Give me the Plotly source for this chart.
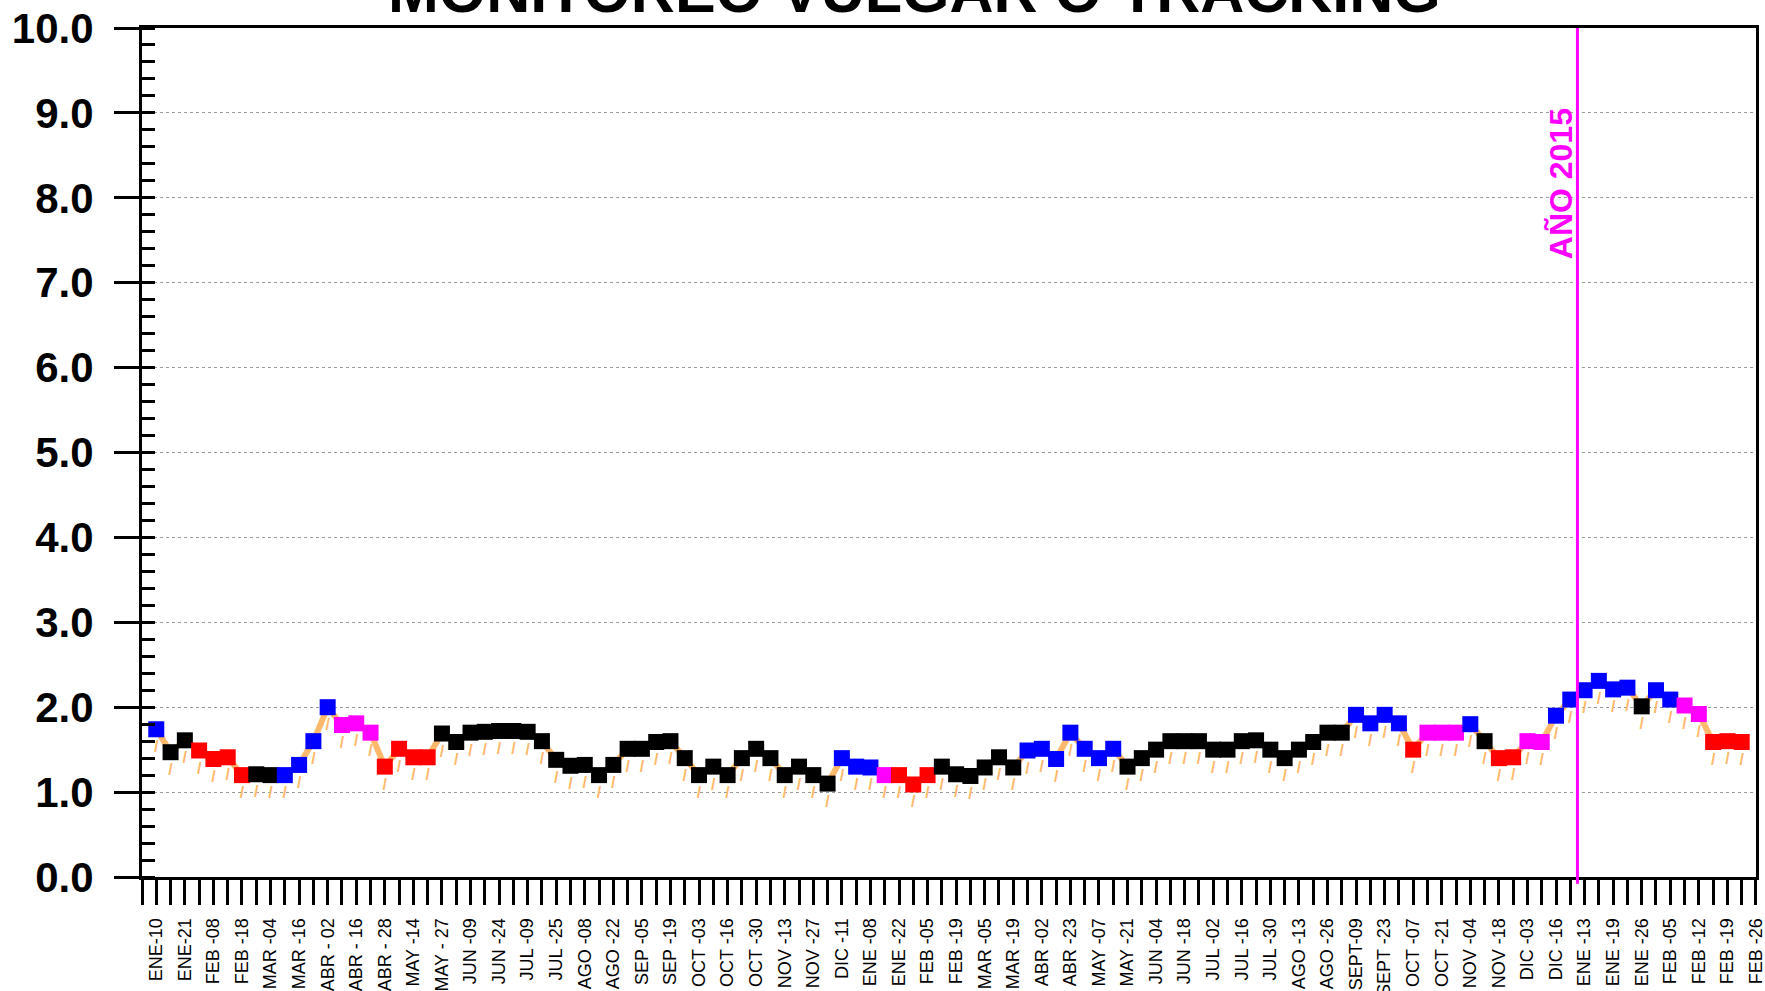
import numpy as np
import plotly.graph_objects as go

# etiquetas de fecha (una cada dos marcas del eje)
fechas = ["ENE-10", "ENE-21", "FEB -08", "FEB -18", "MAR -04", "MAR -16", "ABR - 02", "ABR - 16",
          "ABR - 28", "MAY -14", "MAY - 27", "JUN -09", "JUN -24", "JUL -09", "JUL -25", "AGO -08",
          "AGO -22", "SEP -05", "SEP -19", "OCT -03", "OCT -16", "OCT -30", "NOV -13", "NOV -27",
          "DIC -11", "ENE -08", "ENE -22", "FEB -05", "FEB -19", "MAR -05", "MAR -19", "ABR -02",
          "ABR -23", "MAY -07", "MAY -21", "JUN -04", "JUN -18", "JUL -02", "JUL -16", "JUL -30",
          "AGO -13", "AGO -26", "SEPT-09", "SEPT -23", "OCT -07", "OCT -21", "NOV -04", "NOV -18",
          "DIC -03", "DIC -16", "ENE -13", "ENE -19", "ENE -26", "FEB -05", "FEB -12", "FEB -19",
          "FEB -26"]

# valores del monitoreo
valores = [1.74, 1.47, 1.61, 1.49, 1.39, 1.41, 1.20, 1.21, 1.20, 1.20,
           1.32, 1.60, 2.00, 1.79, 1.81, 1.70, 1.30, 1.51, 1.41, 1.41,
           1.69, 1.59, 1.70, 1.71, 1.72, 1.72, 1.71, 1.60, 1.38, 1.31,
           1.32, 1.20, 1.32, 1.51, 1.51, 1.59, 1.60, 1.40, 1.20, 1.30,
           1.20, 1.40, 1.51, 1.40, 1.20, 1.30, 1.20, 1.10, 1.40, 1.30,
           1.29, 1.20, 1.20, 1.09, 1.20, 1.30, 1.21, 1.19, 1.29, 1.41,
           1.29, 1.49, 1.51, 1.39, 1.70, 1.51, 1.40, 1.51, 1.30, 1.40,
           1.50, 1.60, 1.60, 1.60, 1.50, 1.50, 1.60, 1.61, 1.50, 1.40,
           1.50, 1.59, 1.70, 1.70, 1.91, 1.81, 1.91, 1.81, 1.50, 1.70,
           1.70, 1.70, 1.80, 1.60, 1.40, 1.41, 1.60, 1.59, 1.90, 2.09,
           2.20, 2.31, 2.21, 2.23, 2.01, 2.20, 2.09, 2.02, 1.92, 1.59,
           1.60, 1.59]

# color de cada punto: B azul, K negro, R rojo, M magenta
codigos = ["B", "K", "K", "R", "R", "R", "R", "K", "K", "B",
           "B", "B", "B", "M", "M", "M", "R", "R", "R", "R",
           "K", "K", "K", "K", "K", "K", "K", "K", "K", "K",
           "K", "K", "K", "K", "K", "K", "K", "K", "K", "K",
           "K", "K", "K", "K", "K", "K", "K", "K", "B", "B",
           "B", "M", "R", "R", "R", "K", "K", "K", "K", "K",
           "K", "B", "B", "B", "B", "B", "B", "B", "K", "K",
           "K", "K", "K", "K", "K", "K", "K", "K", "K", "K",
           "K", "K", "K", "K", "B", "B", "B", "B", "R", "M",
           "M", "M", "B", "K", "R", "R", "M", "M", "B", "B",
           "B", "B", "B", "B", "K", "B", "B", "M", "M", "R",
           "R", "R"]
paleta = {"B": "#0000FF", "K": "#000000", "R": "#FF0000", "M": "#FF00FF"}

naranja = "#FFB96C"
magenta = "#FF00FF"
fuente = "Liberation Sans"

x = np.arange(1, len(valores) + 1)
n_marcas = 2 * len(fechas)
tickvals = list(range(n_marcas))
ticktext = []
for f in fechas:
    ticktext += ["", f]

# linea del cambio de año: justo antes de la primera semana de 2015
corte_2015 = 2 * fechas.index("ENE -13") + 1 - 0.5

fig = go.Figure()
fig.add_trace(go.Scatter(x=x, y=valores, mode="lines",
                         line=dict(color=naranja, width=6), hoverinfo="skip"))
fig.add_trace(go.Scatter(x=x, y=valores, mode="markers+text",
                         marker=dict(symbol="square", size=16,
                                     color=[paleta[c] for c in codigos]),
                         text=["/"] * len(valores), textposition="bottom center",
                         textfont=dict(family=fuente, size=16, color=naranja, weight="bold")))

fig.add_shape(type="line", xref="x", yref="paper", x0=corte_2015, x1=corte_2015,
              y0=-0.008, y1=1, line=dict(color=magenta, width=3))
fig.add_annotation(x=corte_2015, y=0.8165, xref="x", yref="paper", text="AÑO 2015",
                   textangle=-90, showarrow=False, xanchor="center", yanchor="middle",
                   xshift=-17, font=dict(family=fuente, size=32, color=magenta, weight="bold"))
fig.add_annotation(x=0.4787, y=1.0434, xref="paper", yref="paper",
                   text="MONITOREO VULGAR O TRACKING", showarrow=False,
                   xanchor="center", yanchor="middle",
                   font=dict(family=fuente, size=61, color="black", weight="bold"))

fig.update_layout(width=1765, height=991, showlegend=False,
                  plot_bgcolor="white", paper_bgcolor="white",
                  margin=dict(l=142, r=9, t=28, b=114, autoexpand=False))
fig.update_xaxes(range=[0, n_marcas - 1 + 0.002], tickmode="array", tickvals=tickvals,
                 ticktext=ticktext, tickangle=-90, ticks="outside", ticklen=25, tickwidth=3,
                 tickcolor="black", showline=True, linewidth=3, linecolor="black", mirror=True,
                 automargin=False, showgrid=False, zeroline=False, ticklabelstandoff=6,
                 ticklabeloverflow="allow",
                 tickfont=dict(family=fuente, size=18, color="black"))
fig.update_yaxes(range=[0, 10], tickmode="linear", tick0=0, dtick=1, tickformat=".1f",
                 ticks="outside", ticklen=25, tickwidth=3, tickcolor="black",
                 showline=True, linewidth=3, linecolor="black", mirror=True, automargin=False,
                 showgrid=True, gridcolor="#9a9a9a", gridwidth=1, griddash="dot",
                 zeroline=False, ticklabelstandoff=12,
                 minor=dict(tick0=0, dtick=0.2, ticks="inside", ticklen=13, tickwidth=3,
                            tickcolor="black", showgrid=False),
                 tickfont=dict(family=fuente, size=42, color="black", weight="bold"))

# la pagina sin margen para que la figura ocupe la ventana exacta
fig.write_html("out.html", config={"displayModeBar": False},
               post_script="document.body.style.margin='0px';")
